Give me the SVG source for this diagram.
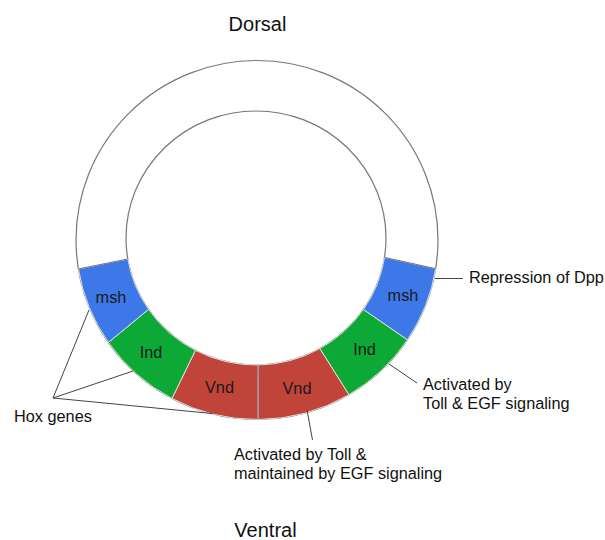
<svg xmlns="http://www.w3.org/2000/svg" width="605" height="540" viewBox="0 0 605 540">
<style>
.t{font-family:"Liberation Sans",Arial,sans-serif;font-size:16.3px;fill:#111}
.big{font-size:20px}
.seg{stroke:#e0e0e0;stroke-width:1}
.lbl{font-family:"Liberation Sans",Arial,sans-serif;font-size:16.3px;fill:#1a1a1a;text-anchor:middle}
.lead{stroke:#444;stroke-width:1;fill:none}
.ring{fill:none;stroke:#777;stroke-width:1.2}
</style>
<rect width="605" height="540" fill="#fff"/>
<g id="ring">
<ellipse class="ring" cx="257" cy="240" rx="181" ry="179.5"/>
<ellipse class="ring" cx="256" cy="238" rx="130" ry="127"/>
</g>
<g id="msh-right">
<path class="seg" fill="#3d78e8" d="M435.7 268.7 A181 179.5 0 0 1 407.4 339.9 L363.4 309.6 A130 127 0 0 0 384.5 257.4 Z"/>
<text class="lbl" x="403" y="301">msh</text>
</g>
<g id="ind-right">
<path class="seg" fill="#0ca936" d="M407.4 339.9 A181 179.5 0 0 1 348.9 394.7 L319.8 348.6 A130 127 0 0 0 363.4 309.6 Z"/>
<text class="lbl" x="364.5" y="355">Ind</text>
</g>
<g id="vnd-right">
<path class="seg" fill="#c0443a" d="M348.9 394.7 A181 179.5 0 0 1 257.9 419.5 L258 365 A130 127 0 0 0 319.8 348.6 Z"/>
<text class="lbl" x="297" y="394">Vnd</text>
</g>
<g id="vnd-left">
<path class="seg" fill="#c0443a" d="M257.9 419.5 A181 179.5 0 0 1 172 398.5 L195.4 350.3 A130 127 0 0 0 258 365 Z"/>
<text class="lbl" x="219.5" y="393">Vnd</text>
</g>
<g id="ind-left">
<path class="seg" fill="#0ca936" d="M172 398.5 A181 179.5 0 0 1 108.4 342.4 L148.5 309.4 A130 127 0 0 0 195.4 350.3 Z"/>
<text class="lbl" x="151" y="358">Ind</text>
</g>
<g id="msh-left">
<path class="seg" fill="#3d78e8" d="M108.4 342.4 A181 179.5 0 0 1 78.4 269 L127.8 259 A130 127 0 0 0 148.5 309.4 Z"/>
<text class="lbl" x="111" y="303">msh</text>
</g>
<g id="edges" stroke="#777" stroke-width="1">
<line x1="258" y1="365" x2="257.9" y2="419.5"/>
<line x1="78.4" y1="269" x2="127.8" y2="259"/>
<line x1="435.7" y1="268.7" x2="384.5" y2="257.4"/>
</g>
<g id="dorsal"><text class="t big" x="257.5" y="31" text-anchor="middle">Dorsal</text></g>
<g id="ventral"><text class="t big" x="265.5" y="537" text-anchor="middle">Ventral</text></g>
<g id="repression"><text class="t" x="469" y="283">Repression of Dpp</text></g>
<g id="toll-egf"><text class="t" x="423" y="390">Activated by</text><text class="t" x="423" y="408.5">Toll &amp; EGF signaling</text></g>
<g id="toll-maint"><text class="t" x="234" y="460">Activated by Toll &amp;</text><text class="t" x="234" y="479">maintained by EGF signaling</text></g>
<g id="hox"><text class="t" x="14" y="422">Hox genes</text></g>
<g id="connectors" class="lead">
<line x1="435" y1="278.5" x2="463" y2="278.5"/>
<line x1="389" y1="364" x2="417" y2="383"/>
<line x1="307" y1="410" x2="312.5" y2="440"/>
<line x1="53" y1="398" x2="89" y2="310"/>
<line x1="53" y1="398" x2="133" y2="371"/>
<line x1="53" y1="398" x2="212" y2="413.5"/>
</g>
</svg>
